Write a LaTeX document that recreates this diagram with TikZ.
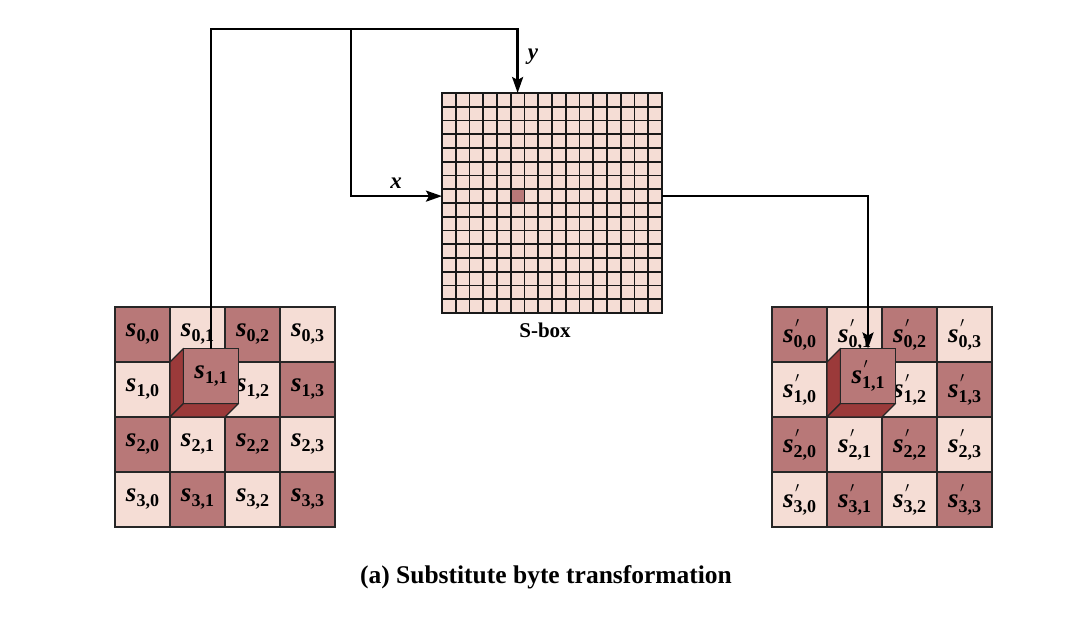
\documentclass[tikz,border=0pt]{standalone}
\usepackage{fontspec}
\setmainfont{Liberation Serif}
\usetikzlibrary{arrows.meta,calc}
\definecolor{cellDark}{HTML}{B87878}
\definecolor{cellLight}{HTML}{F5DDD5}
\definecolor{cubeSide}{HTML}{9B3A3A}
\newcommand{\ent}[2]{\textbf{\textit{s}}\raisebox{-5pt}{\fontsize{18}{18}\selectfont\bfseries #1,#2}}
\newcommand{\entp}[2]{\textbf{\textit{s}}\rlap{\kern1.5pt\raisebox{15pt}{\fontsize{14}{14}\selectfont$\prime$}}\raisebox{-5pt}{\fontsize{18}{18}\selectfont\bfseries #1,#2}}
\tikzset{
  cell/.style={draw=black!85, line width=1.2pt, minimum size=55pt, inner sep=0pt, outer sep=0pt,
    font=\fontsize{27}{27}\selectfont},
  cell0/.style={cell, fill=cellDark},
  cell1/.style={cell, fill=cellLight},
  sboxframe/.style={draw=black!90, line width=1.7pt, fill=cellLight, minimum size=220pt,
    inner sep=0pt, outer sep=0pt},
  gridline/.style={draw=black!90, line width=1.7pt},
  wire/.style={line width=2.5pt},
  arr/.style={wire, -{Stealth[length=16pt,width=11pt,inset=3pt]}},
  side/.style={fill=cubeSide, draw=black!85, line width=1.2pt, line join=round},
  tag/.style={font=\fontsize{23}{23}\selectfont\bfseries\itshape},
}
\begin{document}
\begin{tikzpicture}[x=1pt,y=-1pt]
  \useasboundingbox (0,0) rectangle (1089,618);
  % state matrices
  \foreach \i in {0,...,3}
    \foreach \j in {0,...,3} {
      \pgfmathtruncatemacro\pty{mod(\i+\j,2)}
      \node[cell\pty] (L-\i-\j) at (142.5+55*\j, 334.5+55*\i) {\ent{\i}{\j}};
      \node[cell\pty] (R-\i-\j) at (799.5+55*\j, 334.5+55*\i) {\entp{\i}{\j}};
    }
  % popped out cubes
  \foreach \m in {L,R} {
    \draw[side] (\m-1-1.north west) -- ($(\m-1-1.north west)+(13.5,-13.5)$)
      -- ($(\m-1-1.south west)+(13.5,-13.5)$) -- (\m-1-1.south west) -- cycle;
    \draw[side] (\m-1-1.south west) -- ($(\m-1-1.south west)+(13.5,-13.5)$)
      -- ($(\m-1-1.south east)+(13.5,-13.5)$) -- (\m-1-1.south east) -- cycle;
  }
  \node[cell0] (Lf) at ($(L-1-1)+(13.5,-13.5)$) {\ent{1}{1}};
  \node[cell0] (Rf) at ($(R-1-1)+(13.5,-13.5)$) {\entp{1}{1}};
  % S-box
  \node[sboxframe] (sbox) at (552,203) {};
  \foreach \k in {1,...,15} {
    \draw[gridline] ($(sbox.north west)+(13.75*\k,0)$) -- ($(sbox.south west)+(13.75*\k,0)$);
    \draw[gridline] ($(sbox.north west)+(0,13.75*\k)$) -- ($(sbox.north east)+(0,13.75*\k)$);
  }
  \node[gridline, fill=cellDark, minimum size=13.75pt, inner sep=0pt, outer sep=0pt] (hit)
    at ($(sbox.north west)+(5.5*13.75,7.5*13.75)$) {};
  \node[font=\fontsize{21}{21}\selectfont\bfseries] (sboxlabel) at (545,330) {S-box};
  % wires
  \coordinate (topline) at (0,29);
  \coordinate (fork) at (351,29);
  \draw[arr] (Lf.north) -- (Lf.north |- topline) -- (hit |- topline) -- (hit |- sbox.north);
  \draw[arr] (fork) |- (hit -| sbox.west);
  \draw[arr] (hit -| sbox.east) -| (Rf.north);
  \node[tag] (xlab) at (396,183) {x};
  \node[tag] (ylab) at (533,57) {y};
  \node[font=\fontsize{25.5}{25.5}\selectfont\bfseries] (caption) at (546,577)
    {(a) Substitute byte transformation};
\end{tikzpicture}
\end{document}
